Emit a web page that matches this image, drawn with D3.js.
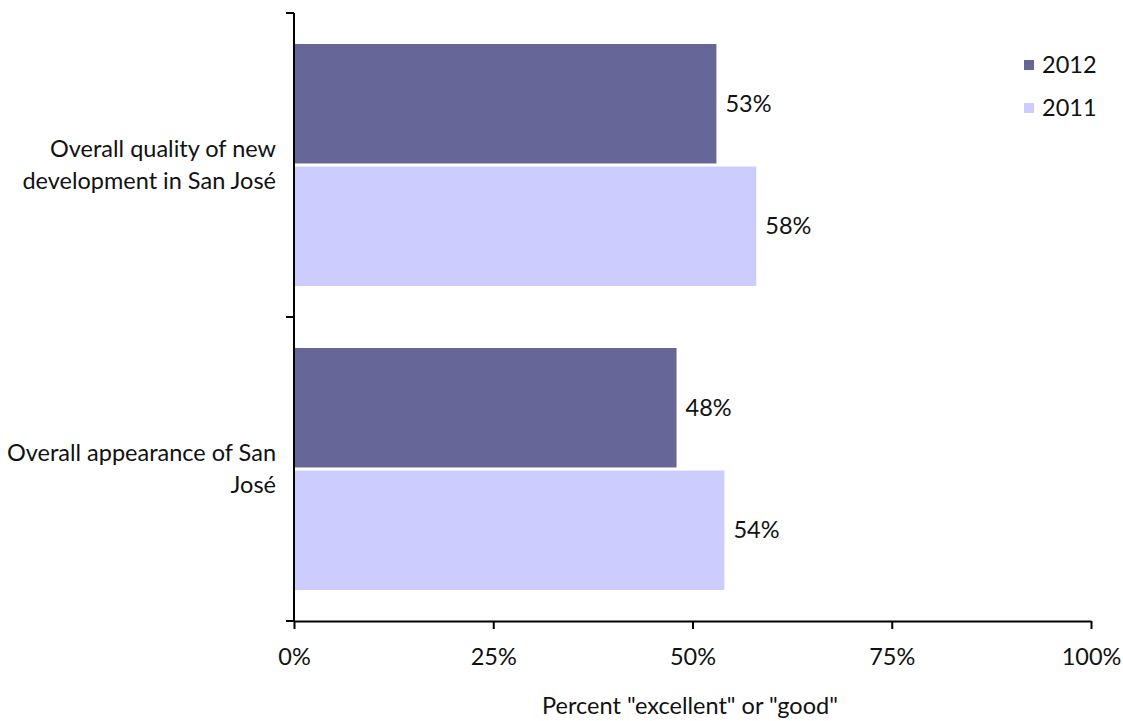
<!DOCTYPE html>
<html><head><meta charset="utf-8">
<script src="https://cdn.jsdelivr.net/npm/d3@7"></script>
<style>body{margin:0;background:#fff}svg{display:block}text{font-family:Lato,"Open Sans",sans-serif;fill:#111}</style>
</head><body><svg id="c" width="1123" height="721"></svg>
<script>
const categories = ["Overall quality of new development in San José", "Overall appearance of San José"];
const categoryLines = [["Overall quality of new", "development in San José"], ["Overall appearance of San", "José"]];
const series = ["2012", "2011"];
const values2012 = [53, 48];
const values2011 = [58, 54];
const xTicks = [0, 25, 50, 75, 100];
const xTitle = 'Percent "excellent" or "good"';
const colors = {"2012": "#666699", "2011": "#ccccff"};
const FS = 23.5;

const svg = d3.select("#c");
const L = 294, R = 1091, T = 13, B = 621;
const x = d3.scaleLinear().domain([0, 100]).range([L, R]);
const y = d3.scaleBand().domain(categories).range([T, B]).paddingInner(0.204).paddingOuter(0.102);
const ys = d3.scaleBand().domain(series).range([0, y.bandwidth()]).paddingInner(0.025);
const data = categories.map((c, i) => ({c, vals: [{s: "2012", v: values2012[i]}, {s: "2011", v: values2011[i]}]}));

const g = svg.append("g");
data.forEach(d => {
  d.vals.forEach(e => {
    g.append("rect").attr("x", x(0)).attr("y", y(d.c) + ys(e.s))
      .attr("width", x(e.v) - x(0)).attr("height", ys.bandwidth()).attr("fill", colors[e.s]);
    g.append("text").attr("x", x(e.v) + 9).attr("y", y(d.c) + ys(e.s) + ys.bandwidth() / 2)
      .attr("dy", "0.35em").attr("font-size", FS).text(e.v + "%");
  });
});

// y axis
const yCat = d3.scaleBand().domain(categories).range([T, B]);
svg.append("line").attr("x1", L).attr("x2", L).attr("y1", T).attr("y2", B).attr("stroke", "#000").attr("stroke-width", 2);
[T, ...categories.map(c => yCat(c) + yCat.bandwidth())].forEach(v => {
  svg.append("line").attr("x1", L - 8).attr("x2", L).attr("y1", v).attr("y2", v).attr("stroke", "#000").attr("stroke-width", 2);
});
categories.forEach((c, i) => {
  const t = svg.append("text").attr("text-anchor", "end").attr("font-size", FS);
  const lines = categoryLines[i];
  const cy = yCat(c) + yCat.bandwidth() / 2;
  lines.forEach((ln, j) => {
    t.append("tspan").attr("x", 276).attr("y", cy + (j - (lines.length - 1) / 2) * 32).attr("dy", "0.35em").text(ln);
  });
});

// x axis
const xa = svg.append("g").attr("transform", `translate(0,${B})`)
  .call(d3.axisBottom(x).tickValues(xTicks).tickFormat(d => d + "%").tickSize(8).tickPadding(19).tickSizeOuter(0));
xa.select(".domain").attr("stroke", "#000").attr("stroke-width", 2);
xa.selectAll(".tick line").attr("stroke", "#000").attr("stroke-width", 2);
xa.selectAll(".tick text").attr("font-size", FS).attr("font-family", "Lato,'Open Sans',sans-serif").attr("fill", "#111");
svg.append("text").attr("x", 690).attr("y", 714).attr("text-anchor", "middle").attr("font-size", FS).text(xTitle);

// legend
series.forEach((s, i) => {
  const ly = 65 + i * 43;
  svg.append("rect").attr("x", 1024).attr("y", ly - 5).attr("width", 10).attr("height", 10).attr("fill", colors[s]);
  svg.append("text").attr("x", 1042).attr("y", ly).attr("dy", "0.35em").attr("font-size", FS).text(s);
});
</script></body></html>
